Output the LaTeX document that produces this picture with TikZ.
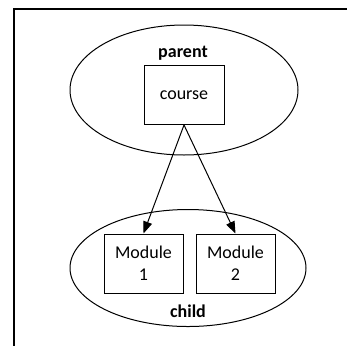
\documentclass[tikz,border=0pt]{standalone}
\usepackage{fontspec}
\setmainfont{Carlito}
\usetikzlibrary{arrows.meta,shapes.geometric}
\begin{document}
\begin{tikzpicture}[x=1pt,y=-1pt,
  cluster/.style={draw,line width=1pt,ellipse,inner sep=0pt},
  box/.style={draw,line width=1pt,rectangle,inner sep=0pt,align=center,font=\fontsize{18}{21}\selectfont},
  lbl/.style={font=\fontsize{18}{20}\selectfont\bfseries,inner sep=0pt},
  arr/.style={-{Triangle[length=12pt,width=9pt]},line width=1pt}]
\useasboundingbox (0,0) rectangle (347,346);
\fill[white] (0,0) rectangle (347,346);
\coordinate (tl) at (14,9);
\coordinate (tr) at (347,9);
\coordinate (bl) at (14,346);
\draw[line width=1.4pt] (tr) -- (tl) -- (bl);
\node[cluster,minimum width=228pt,minimum height=130pt] (parent) at (184,90) {};
\node[lbl] (plabel) at (183,53) {parent};
\node[box,minimum width=80pt,minimum height=59pt] (course) at (184,95) {course};
\node[cluster,minimum width=236pt,minimum height=117pt] (child) at (188,268) {};
\node[box,minimum width=79pt,minimum height=59pt] (m1) at (143.5,263.5) {Module\\[1pt]1};
\node[box,minimum width=79pt,minimum height=59pt] (m2) at (235.5,263.5) {Module\\[1pt]2};
\node[lbl] (clabel) at (188,311) {child};
\draw[arr] (course.south) -- (m1.north);
\draw[arr] (course.south) -- (m2.north);
\end{tikzpicture}
\end{document}
